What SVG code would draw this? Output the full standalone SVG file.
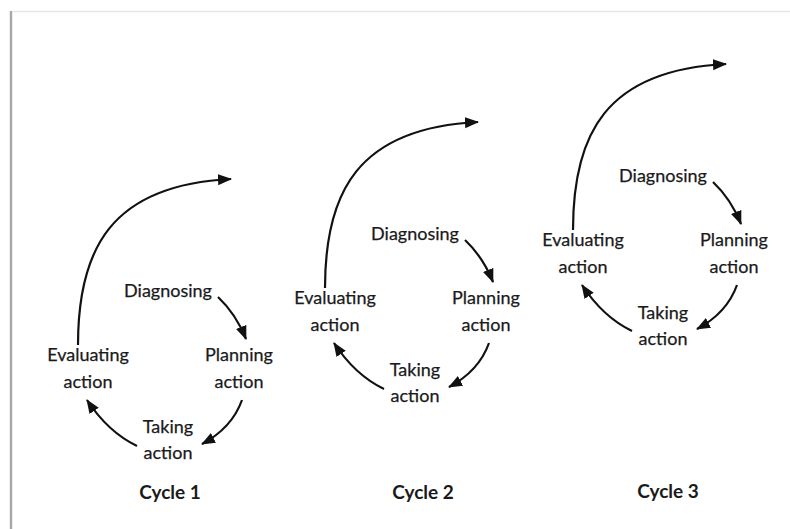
<svg xmlns="http://www.w3.org/2000/svg" width="790" height="529" viewBox="0 0 790 529">
<style>
.t{font-family:Lato,"Open Sans","Liberation Sans",sans-serif;font-size:18px;fill:#1a1a1a;stroke:#1a1a1a;stroke-width:0.25;text-anchor:middle}
.c{font-family:Lato,"Open Sans","Liberation Sans",sans-serif;font-size:19px;font-weight:bold;fill:#1a1a1a;text-anchor:middle}
.a{fill:none;stroke:#111;stroke-width:2.2;marker-end:url(#ah)}
</style>
<defs>
<marker id="ah" markerUnits="userSpaceOnUse" markerWidth="15" markerHeight="12" refX="13" refY="5.5" orient="auto">
<path d="M0,0 L14,5.5 L0,11 Z" fill="#111"/>
</marker>
</defs>
<rect width="790" height="529" fill="#fff"/>
<g id="frame">
<line x1="12" y1="11.5" x2="790" y2="11.5" stroke="#e6e6e6" stroke-width="1.5"/>
<rect x="9" y="11" width="4" height="518" fill="#ececec"/>
<rect x="10" y="11" width="2" height="518" fill="#a8a8a8"/>
</g>
<g id="connectors">
<path class="a" d="M78,345 C78,250 110,185 231,179"/>
<path class="a" d="M218,297 Q236,314 246,339"/>
<path class="a" d="M242,400 Q232,428 202,444"/>
<path class="a" d="M137,446 Q108,432 87,400"/>
<path class="a" d="M325,288 C325,193 357,128 478,122"/>
<path class="a" d="M465,240 Q483,257 493,282"/>
<path class="a" d="M489,343 Q479,371 449,387"/>
<path class="a" d="M384,389 Q355,375 334,343"/>
<path class="a" d="M573,230 C573,135 605,70 726,64"/>
<path class="a" d="M713,182 Q731,199 741,224"/>
<path class="a" d="M737,285 Q727,313 697,329"/>
<path class="a" d="M632,331 Q603,317 582,285"/>
</g>
<g id="c1-diagnosing"><text class="t" x="168" y="297">Diagnosing</text></g>
<g id="c1-planning"><text class="t" x="239" y="361">Planning</text><text class="t" x="239" y="388">action</text></g>
<g id="c1-taking"><text class="t" x="168" y="433">Taking</text><text class="t" x="168" y="459">action</text></g>
<g id="c1-evaluating"><text class="t" x="88" y="361">Evaluating</text><text class="t" x="88" y="388">action</text></g>
<g id="c1-label"><text class="c" x="170" y="499">Cycle 1</text></g>
<g id="c2-diagnosing"><text class="t" x="415" y="240">Diagnosing</text></g>
<g id="c2-planning"><text class="t" x="486" y="304">Planning</text><text class="t" x="486" y="331">action</text></g>
<g id="c2-taking"><text class="t" x="415" y="376">Taking</text><text class="t" x="415" y="402">action</text></g>
<g id="c2-evaluating"><text class="t" x="335" y="304">Evaluating</text><text class="t" x="335" y="331">action</text></g>
<g id="c2-label"><text class="c" x="423" y="499">Cycle 2</text></g>
<g id="c3-diagnosing"><text class="t" x="663" y="182">Diagnosing</text></g>
<g id="c3-planning"><text class="t" x="734" y="246">Planning</text><text class="t" x="734" y="273">action</text></g>
<g id="c3-taking"><text class="t" x="663" y="319">Taking</text><text class="t" x="663" y="345">action</text></g>
<g id="c3-evaluating"><text class="t" x="583" y="246">Evaluating</text><text class="t" x="583" y="273">action</text></g>
<g id="c3-label"><text class="c" x="668" y="498">Cycle 3</text></g>
</svg>
